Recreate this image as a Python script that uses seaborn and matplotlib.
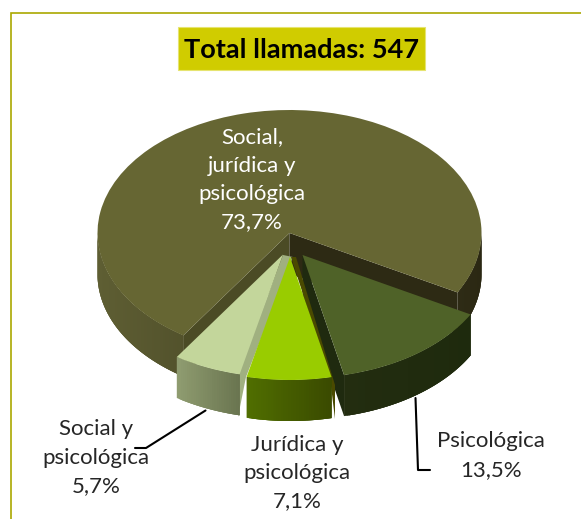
import numpy as np
import seaborn as sns
import matplotlib.pyplot as plt
from matplotlib.colors import LinearSegmentedColormap

categories = ['Social,\njurídica y\npsicológica', 'Social y\npsicológica',
              'Jurídica y\npsicológica', 'Psicológica']
percent = [73.7, 5.7, 7.1, 13.5]
total_calls = 547
top_colors = ['#666633', '#c3d69b', '#99cc00', '#4f6228']

W, H = 581, 519
CX, CY = 289.5, 233      # pie centre in pixels
RX, RY = 192, 123        # ellipse radii in pixels
DEPTH = 41 / RY

sns.set_theme(style='white')
plt.rcParams['font.family'] = ['Lato', 'DejaVu Sans']

fig = plt.figure(figsize=(W / 100, H / 100), dpi=100)
ax = fig.add_axes([0, 0, 1, 1])
wedges, _ = ax.pie(percent, colors=sns.color_palette(top_colors), startangle=-28.9,
                   wedgeprops={'linewidth': 0})
ax.set_aspect('auto')
ax.set_xlim(-CX / RX, (W - CX) / RX)
ax.set_ylim((CY - H) / RY, CY / RY)

# how far each slice is pulled out of the pie, in pixels
shifts = [(0, 0), (-6.5, 21.5), (0.5, 24), (13, 22)]
# wall colours, left to right
wall_colors = [('#5e5e33', '#2b2813'), ('#8f9c70', '#69744f'),
               ('#506e00', '#3a4a00'), ('#232d10', '#1e2a0d')]
draw_order = [0, 3, 1, 2]


def edge_point(center, angle):
    return (center[0] + np.cos(np.radians(angle)), center[1] + np.sin(np.radians(angle)))


def cut_face(center, angle, color, z):
    x, y = edge_point(center, angle)
    ax.fill([center[0], x, x, center[0]], [center[1], y, y - DEPTH, center[1] - DEPTH],
            color=color, lw=0, zorder=z)


for n, i in enumerate(draw_order):
    w = wedges[i]
    center = (shifts[i][0] / RX, -shifts[i][1] / RY)
    w.set_center(center)
    z = 10 + n * 3
    w.set_zorder(z + 2)

    if i == 0:
        cut_face(center, w.theta2, '#4b4b25', z)
        cut_face(center, w.theta1, '#2d2a14', z)
    if i == 3:
        cut_face(center, w.theta1, '#1f2a0f', z)
    if i == 1:
        # inner face seen to the right of the slice
        ax.fill([(283 - CX) / RX, (293 - CX) / RX, (246 - CX) / RX, (238 - CX) / RX, (238 - CX) / RX],
                [(CY - 255) / RY, (CY - 257) / RY, (CY - 377) / RY, (CY - 417) / RY, (CY - 374) / RY],
                color='#a0b080', lw=0, zorder=z)
    if i == 2:
        # thin brown inner face on the right
        ax.fill([(291 - CX) / RX, (296 - CX) / RX, (335 - CX) / RX, (335 - CX) / RX, (330 - CX) / RX],
                [(CY - 257) / RY, (CY - 257) / RY, (CY - 385) / RY, (CY - 419) / RY, (CY - 378) / RY],
                color='#4a4a00', lw=0, zorder=z)

    # outer wall as thin strips with a left to right gradient, each strip
    # overlaps the next one so no seams show
    cmap = LinearSegmentedColormap.from_list('wall', wall_colors[i])
    angles = np.arange(w.theta1, w.theta2, 0.75)
    angles = np.append(angles, w.theta2)
    xs = center[0] + np.cos(np.radians(angles))
    lo, hi = (-1, 1) if i == 0 else (xs.min(), xs.max())
    for k, (a0, a1) in enumerate(zip(angles[:-1], angles[1:])):
        if np.sin(np.radians((a0 + a1) / 2)) >= 0:
            continue
        a_end = min(a1 + 1.5, w.theta2)
        seg = np.linspace(a0, a_end, 5)
        px = center[0] + np.cos(np.radians(seg))
        py = center[1] + np.sin(np.radians(seg))
        c = cmap((np.cos(np.radians(a0)) + center[0] - lo) / (hi - lo))
        ax.fill(np.r_[px, px[::-1]], np.r_[py, py[::-1] - DEPTH], color=c, lw=0, zorder=z + 1)

# pixel overlay for frame, title, labels and leader lines
ov = fig.add_axes([0, 0, 1, 1], zorder=5)
ov.set_xlim(0, W)
ov.set_ylim(H, 0)
ov.axis('off')
ov.patch.set_alpha(0)

ov.plot([10.5, 10.5, W], [H, 13, 13], color='#aaa800', lw=1.2, solid_joinstyle='miter')
ov.fill([178, 425, 425, 178], [27, 27, 70, 70], color='#d0cc00', ec='#e6e470', lw=0.8)
ov.text(301, 49.5, f'Total llamadas: {total_calls}', ha='center', va='center',
        fontsize=19.5, fontweight='bold', color='black')

ov.plot([205.5, 146, 135], [410.5, 448, 448], color='black', lw=1.5)
ov.plot([415.5, 418, 430], [398, 470, 470], color='black', lw=1.5, zorder=1)

label_pos = [(252, 180), (96, 457.5), (297, 473), (491, 455.5)]
label_colors = ['white', '#262626', '#262626', '#262626']
for cat, val, pos, col in zip(categories, percent, label_pos, label_colors):
    txt = cat + '\n' + f'{val:.1f}'.replace('.', ',') + '%'
    ov.text(pos[0], pos[1], txt, ha='center', va='center', ma='center', fontsize=16,
            color=col, linespacing=1.52)

fig.savefig('out.png', dpi=100, facecolor='white')
